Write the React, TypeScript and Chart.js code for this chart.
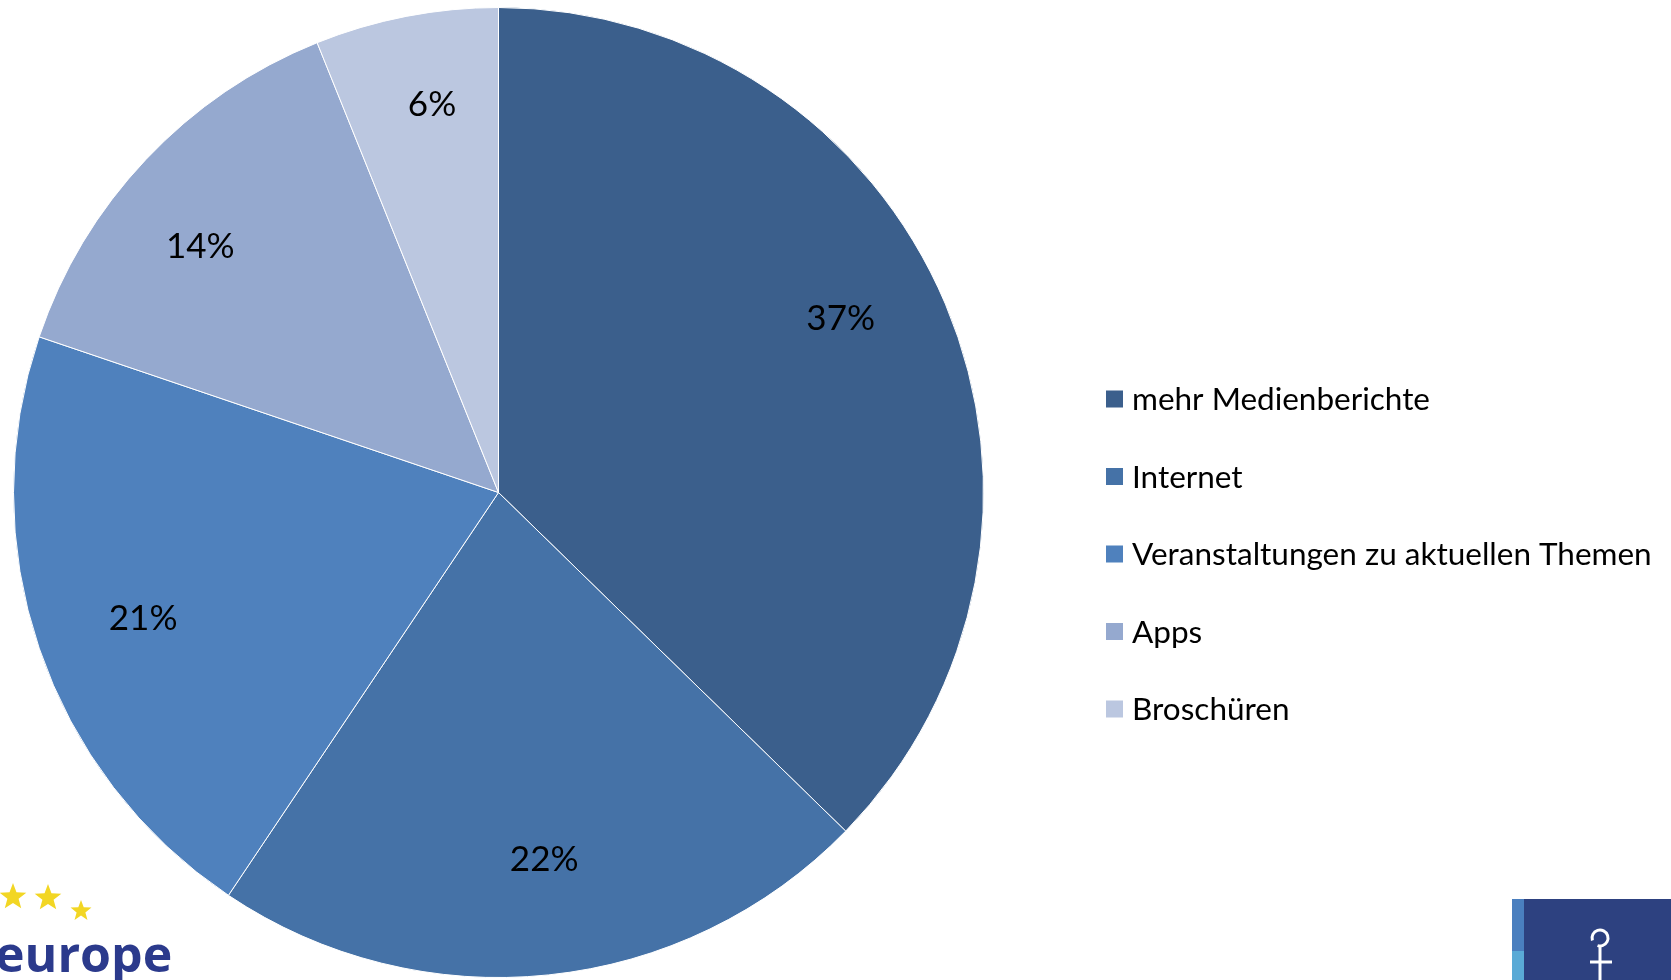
import React, { useEffect, useRef } from "react";
import { Chart, registerables } from "chart.js";

Chart.register(...registerables);

const categories = [
  "mehr Medienberichte",
  "Internet",
  "Veranstaltungen zu aktuellen Themen",
  "Apps",
  "Broschüren",
];
const shares = [37.3, 22.1, 20.8, 13.7, 6.1];
const sliceColors = ["#3B5F8C", "#4572A7", "#4F81BD", "#95A9CF", "#BBC7E0"];
// label placement style: angular nudge (degrees) and radial fraction per slice
const labelAngleNudge = [-4.3, -1.2, -0.5, -3.7, 1.3];
const labelRadiusFrac = [0.793, 0.758, 0.776, 0.799, 0.815];

const FONT = "Lato, 'Open Sans', sans-serif";

function star(ctx: CanvasRenderingContext2D, cx: number, cy: number, r: number) {
  ctx.beginPath();
  for (let i = 0; i < 10; i++) {
    const rr = i % 2 === 0 ? r : r * 0.42;
    const a = -Math.PI / 2 + (i * Math.PI) / 5;
    const x = cx + rr * Math.cos(a);
    const y = cy + rr * Math.sin(a);
    if (i === 0) ctx.moveTo(x, y);
    else ctx.lineTo(x, y);
  }
  ctx.closePath();
  ctx.fill();
}

const labelsPlugin = {
  id: "sliceLabels",
  afterDatasetsDraw(chart: any) {
    const ctx = chart.ctx as CanvasRenderingContext2D;
    const meta = chart.getDatasetMeta(0);
    const data = chart.data.datasets[0].data as number[];
    ctx.save();
    ctx.fillStyle = "#000000";
    ctx.font = `35px ${FONT}`;
    ctx.textAlign = "center";
    ctx.textBaseline = "middle";
    meta.data.forEach((arc: any, i: number) => {
      const p = arc.getProps(["x", "y", "startAngle", "endAngle", "outerRadius"], true);
      const mid = (p.startAngle + p.endAngle) / 2 + (labelAngleNudge[i] * Math.PI) / 180;
      const r = p.outerRadius * labelRadiusFrac[i];
      ctx.fillText(`${Math.round(data[i])}%`, p.x + r * Math.cos(mid), p.y + r * Math.sin(mid) + 2);
    });
    ctx.restore();
  },
};

const legendPlugin = {
  id: "sideLegend",
  afterDraw(chart: any) {
    const ctx = chart.ctx as CanvasRenderingContext2D;
    const labels = chart.data.labels as string[];
    const colors = chart.data.datasets[0].backgroundColor as string[];
    ctx.save();
    ctx.font = `31.5px ${FONT}`;
    ctx.textBaseline = "middle";
    ctx.textAlign = "left";
    labels.forEach((lab, i) => {
      const cy = 399 + i * 77.5;
      ctx.fillStyle = colors[i];
      ctx.fillRect(1106, cy - 8.5, 17, 17);
      ctx.fillStyle = "#000000";
      ctx.fillText(lab, 1132, cy + 1);
    });
    ctx.restore();
  },
};

const logosPlugin = {
  id: "logos",
  afterDraw(chart: any) {
    const ctx = chart.ctx as CanvasRenderingContext2D;
    ctx.save();
    ctx.fillStyle = "#F2D624";
    star(ctx, 13, 897, 14);
    star(ctx, 48, 898, 14);
    star(ctx, 81, 911, 11);
    ctx.fillStyle = "#2B3A8C";
    ctx.font = `bold 50px 'Open Sans', sans-serif`;
    ctx.textBaseline = "alphabetic";
    ctx.textAlign = "left";
    ctx.fillText("europe", -5, 972);
    // right logo
    ctx.fillStyle = "#2D4180";
    ctx.fillRect(1512, 899, 159, 81);
    ctx.fillStyle = "#4A7FBF";
    ctx.fillRect(1512, 899, 12, 52);
    ctx.fillStyle = "#5AAAD6";
    ctx.fillRect(1512, 951, 12, 29);
    ctx.strokeStyle = "#FFFFFF";
    ctx.lineWidth = 3;
    ctx.beginPath();
    ctx.arc(1600, 938, 8, Math.PI * 0.9, Math.PI * 2.6);
    ctx.stroke();
    ctx.beginPath();
    ctx.moveTo(1600, 946);
    ctx.lineTo(1600, 980);
    ctx.moveTo(1590, 962);
    ctx.lineTo(1612, 962);
    ctx.stroke();
    ctx.restore();
  },
};

export default function App() {
  const ref = useRef<HTMLCanvasElement | null>(null);
  useEffect(() => {
    if (!ref.current) return;
    const chart = new Chart(ref.current, {
      type: "pie",
      data: {
        labels: categories,
        datasets: [
          {
            data: shares,
            backgroundColor: sliceColors,
            borderColor: "#FFFFFF",
            borderWidth: 1,
          },
        ],
      },
      options: {
        responsive: false,
        animation: false,
        layout: { padding: { left: 13, top: 7, right: 687, bottom: 2 } },
        plugins: {
          legend: { display: false },
          tooltip: { enabled: false },
        },
      },
      plugins: [labelsPlugin, legendPlugin, logosPlugin],
    });
    return () => chart.destroy();
  }, []);
  return (
    <div style={{ position: "absolute", left: 0, top: 0, width: 1671, height: 980, background: "#FFFFFF" }}>
      <canvas ref={ref} width={1671} height={980} style={{ display: "block" }} />
    </div>
  );
}
